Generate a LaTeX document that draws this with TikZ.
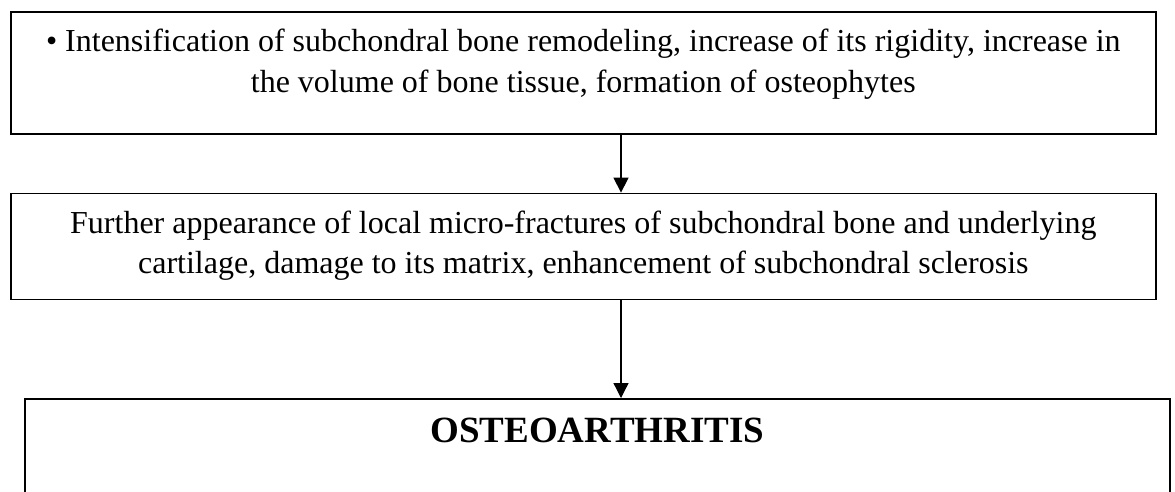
\documentclass[tikz,border=0pt]{standalone}
\usepackage{fontspec}
\setmainfont{Liberation Serif}
\usetikzlibrary{arrows.meta,calc,positioning}

\begin{document}
\begin{tikzpicture}[
  x=1pt,
  y=1pt,
  frame/.style={draw=black,line width=1.6pt,minimum width=1145pt,inner sep=0pt},
  boxtext/.style={
    font=\fontsize{32}{41}\selectfont,
    align=center,
    inner sep=0pt,
    anchor=north
  },
  flow/.style={line width=1.3pt,-{Triangle[length=15pt,width=15pt]}}
]
\useasboundingbox (0,0) rectangle (1175,-491);
\clip (0,0) rectangle (1175,-491);

% Frames
\node[frame,minimum height=122pt,anchor=north west] (stepA) at (10,-11) {};
\node[frame,minimum height=106pt,below=58pt of stepA] (stepB) {};
\node[frame,minimum height=160pt,anchor=north west] (result) at (24,-398) {};

% Texts
\node[boxtext] (textA) at ($(stepA.north)+(0,-18)$)
  {\textbullet{} Intensification of subchondral bone remodeling, increase of its rigidity, increase in\\
   the volume of bone tissue, formation of osteophytes};

\node[boxtext,font=\fontsize{32}{40}\selectfont] (textB) at ($(stepB.north)+(0,-18)$)
  {Further appearance of local micro-fractures of subchondral bone and underlying\\
   cartilage, damage to its matrix, enhancement of subchondral sclerosis};

\node[boxtext,font=\fontsize{37}{44}\selectfont\bfseries] (textC) at ($(result.north)+(0,-20)$)
  {OSTEOARTHRITIS};

% Connectors
\coordinate (axis) at (621,0);
\draw[flow] (stepA.south -| axis) -- (stepB.north -| axis);
\draw[flow] (stepB.south -| axis) -- (result.north -| axis);

\end{tikzpicture}
\end{document}
